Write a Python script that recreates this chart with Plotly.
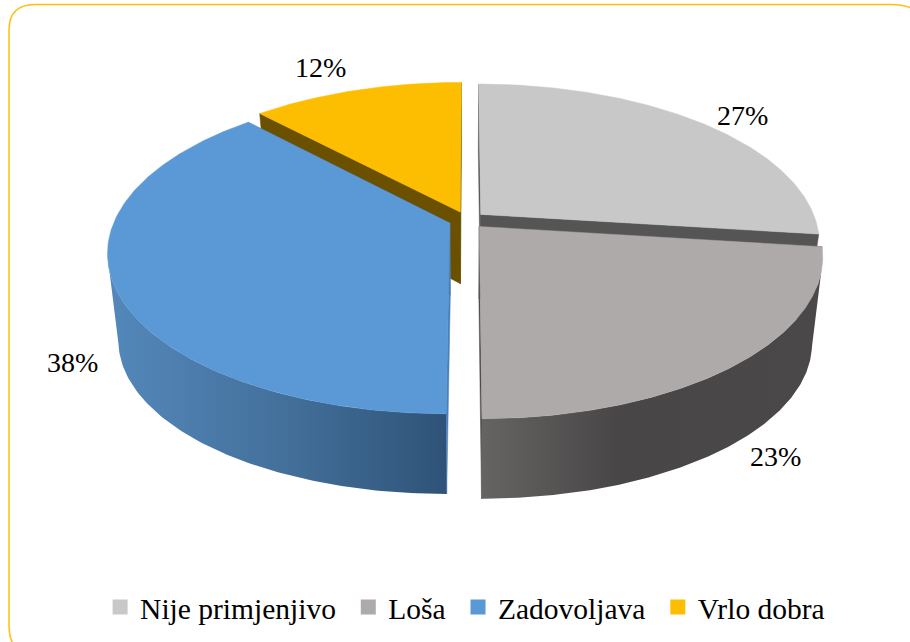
import numpy as np
import plotly.graph_objects as go

CATEGORIES = ["Nije primjenjivo", "Loša", "Zadovoljava", "Vrlo dobra"]
VALUES = [27, 23, 38, 12]
LABELS = ["27%", "23%", "38%", "12%"]

TOP_COLORS = ["#c8c8c8", "#aeaaa9", "#5b98d6", "#fdbd00"]
CUT_COLORS = ["#555555", "#4a4a4a", "#4a80b8", "#6b5000"]
WALL_SCALES = [
    None,
    [[0, "#666463"], [0.4, "#484646"], [1, "#4a4848"]],
    [[0, "#5488bb"], [0.5, "#44719c"], [1, "#2f5378"]],
    None,
]
LABEL_XY = [(742, 115), (775, 456), (72, 362), (320, 67)]
DRAW_ORDER = [3, 0, 2, 1]  # back slices first

# projection of the tilted disc onto the page
CX, CY, SX, SY, PERSP, EXPLODE = 467, 220, 335, 155.4, 0.178, 0.055
CUT_DEPTH, CUT_Y = 72, 1.042
WALL_DEPTH, WALL_Y = 88, 0.96
BOTTOM_X = 0.97
FONT = "Liberation Serif"


def project(u, v):
    d = 1 + PERSP * v
    return CX + SX * u / d, CY - SY * v / d


def lower(x, y, depth, ys):
    return CX + BOTTOM_X * (x - CX), CY + depth + ys * (y - CY)


total = sum(VALUES)
edges = 2 * np.pi * np.cumsum([0] + VALUES) / total
fig = go.Figure()


def poly(x, y, color):
    fig.add_trace(go.Scatter(x=x, y=y, mode="lines", fill="toself", fillcolor=color,
                             line=dict(color=color, width=0.5), hoverinfo="skip",
                             showlegend=False))


for i in DRAW_ORDER:
    a0, a1 = edges[i], edges[i + 1]
    mid = (a0 + a1) / 2
    eu, ev = EXPLODE * np.sin(mid), EXPLODE * np.cos(mid)
    th = np.linspace(a0, a1, 160)
    rx, ry = project(eu + np.sin(th), ev + np.cos(th))
    ax, ay = project(eu, ev)
    lax, lay = lower(ax, ay, CUT_DEPTH, CUT_Y)

    # flat cut faces, seen through the gap
    for end in (0, -1):
        bx, by = lower(rx[end], ry[end], CUT_DEPTH, CUT_Y)
        poly([ax, rx[end], bx, lax, ax], [ay, ry[end], by, lay, ay], CUT_COLORS[i])

    # curved outer wall on the near part of the rim
    if WALL_SCALES[i] is not None:
        front = np.cos(th) <= -0.2
        wx, wy = rx[front], ry[front]
        bx, by = lower(wx, wy, WALL_DEPTH, WALL_Y)
        fig.add_trace(go.Scatter(
            x=np.r_[wx, bx[::-1], wx[0]], y=np.r_[wy, by[::-1], wy[0]],
            mode="lines", line=dict(width=0, color="rgba(0,0,0,0)"), fill="toself",
            fillgradient=dict(type="horizontal", colorscale=WALL_SCALES[i]),
            hoverinfo="skip", showlegend=False))

    # top face
    poly(np.r_[ax, rx, ax], np.r_[ay, ry, ay], TOP_COLORS[i])

for name, color in zip(CATEGORIES, TOP_COLORS):
    fig.add_trace(go.Scatter(x=[None], y=[None], mode="markers", name=name + "\u00a0",
                             marker=dict(symbol="square", size=15, color=color)))

for text, (x, y) in zip(LABELS, LABEL_XY):
    fig.add_annotation(x=x, y=y, text=text, showarrow=False,
                       font=dict(family=FONT, size=28, color="#000000"))

fig.update_layout(
    width=910, height=642, margin=dict(l=0, r=0, t=0, b=0),
    paper_bgcolor="white", plot_bgcolor="white",
    xaxis=dict(range=[0, 910], visible=False, fixedrange=True),
    yaxis=dict(range=[642, 0], visible=False, fixedrange=True),
    legend=dict(orientation="h", x=0.11, xanchor="left", y=0.054, yanchor="middle",
                font=dict(family=FONT, size=29.5, color="#000000"),
                bgcolor="rgba(0,0,0,0)", itemclick=False, itemdoubleclick=False),
    shapes=[dict(type="path", layer="below", xref="x", yref="y",
                 path="M 9 30 Q 9 4.5 35 4.5 L 890 4.5 Q 925 4.5 925 30 L 925 625 "
                      "Q 925 655 895 655 L 35 655 Q 9 655 9 625 Z",
                 line=dict(color="#fdc010", width=1.5))],
)
fig.write_html("out.html", config=dict(displayModeBar=False),
               post_script="document.body.style.margin='0';"
               "document.documentElement.style.overflow='hidden';")
